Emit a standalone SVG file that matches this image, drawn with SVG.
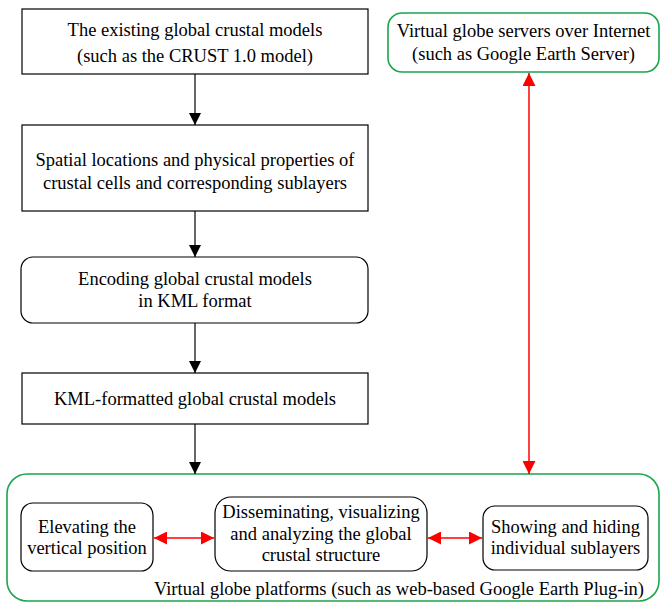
<svg xmlns="http://www.w3.org/2000/svg" width="661" height="603" viewBox="0 0 661 603">
<defs>
<style>
text{font-family:"Liberation Serif","Times New Roman",serif;font-size:18.5px;fill:#000;text-anchor:middle}
.box{fill:#fff;stroke:#000;stroke-width:1.2}
.gbox{fill:#fff;stroke:#1aa64a;stroke-width:1.6}
.blk{stroke:#000;stroke-width:1.2;fill:none}
.red{stroke:#f00;stroke-width:1.5;fill:none}
</style>
<marker id="ab" viewBox="0 0 10 10" refX="10" refY="5" markerWidth="12" markerHeight="12" markerUnits="userSpaceOnUse" orient="auto"><path d="M0,0L10,5L0,10z" fill="#000"/></marker>
<marker id="ar" viewBox="0 0 10 10" refX="10" refY="5" markerWidth="13" markerHeight="13" markerUnits="userSpaceOnUse" orient="auto-start-reverse"><path d="M0,0L10,5L0,10z" fill="#f00"/></marker>
</defs>
<g id="platform">
<rect class="gbox" x="7" y="474" width="652" height="127" rx="20"/>
<text x="399" y="595">Virtual globe platforms (such as web-based Google Earth Plug-in)</text>
</g>
<g id="n1"><rect class="box" x="22" y="9" width="346" height="65"/>
<text x="195" y="36">The existing global crustal models</text>
<text x="195" y="62">(such as the CRUST 1.0 model)</text></g>
<g id="n2"><rect class="box" x="22" y="125" width="346" height="86"/>
<text x="195" y="166">Spatial locations and physical properties of</text>
<text x="195" y="189">crustal cells and corresponding sublayers</text></g>
<g id="n3"><rect class="box" x="21" y="257" width="347" height="66" rx="12"/>
<text x="195" y="285">Encoding global crustal models</text>
<text x="195" y="307">in KML format</text></g>
<g id="n4"><rect class="box" x="22" y="373" width="346" height="51"/>
<text x="195" y="405">KML-formatted global crustal models</text></g>
<g id="server"><rect class="gbox" x="388" y="13" width="271" height="59" rx="14"/>
<text x="523.5" y="37">Virtual globe servers over Internet</text>
<text x="523.5" y="60">(such as Google Earth Server)</text></g>
<g id="elev"><rect class="box" x="21" y="503" width="132" height="68" rx="12"/>
<text x="87" y="533">Elevating the</text>
<text x="87" y="554">vertical position</text></g>
<g id="dissem"><rect class="box" x="215" y="497" width="212" height="74" rx="16"/>
<text x="321" y="518">Disseminating, visualizing</text>
<text x="321" y="540">and analyzing  the global</text>
<text x="321" y="561">crustal structure</text></g>
<g id="show"><rect class="box" x="483" y="506" width="165" height="64" rx="12"/>
<text x="565.5" y="533">Showing and hiding</text>
<text x="565.5" y="554">individual sublayers</text></g>
<g id="connectors">
<line class="blk" x1="195" y1="74" x2="195" y2="125" marker-end="url(#ab)"/>
<line class="blk" x1="195" y1="211" x2="195" y2="257" marker-end="url(#ab)"/>
<line class="blk" x1="195" y1="323" x2="195" y2="373" marker-end="url(#ab)"/>
<line class="blk" x1="195" y1="424" x2="195" y2="474" marker-end="url(#ab)"/>
<line class="red" x1="529" y1="73" x2="529" y2="474" marker-start="url(#ar)" marker-end="url(#ar)"/>
<line class="red" x1="154" y1="538" x2="214" y2="538" marker-start="url(#ar)" marker-end="url(#ar)"/>
<line class="red" x1="428" y1="538" x2="482" y2="538" marker-start="url(#ar)" marker-end="url(#ar)"/>
</g>
</svg>
